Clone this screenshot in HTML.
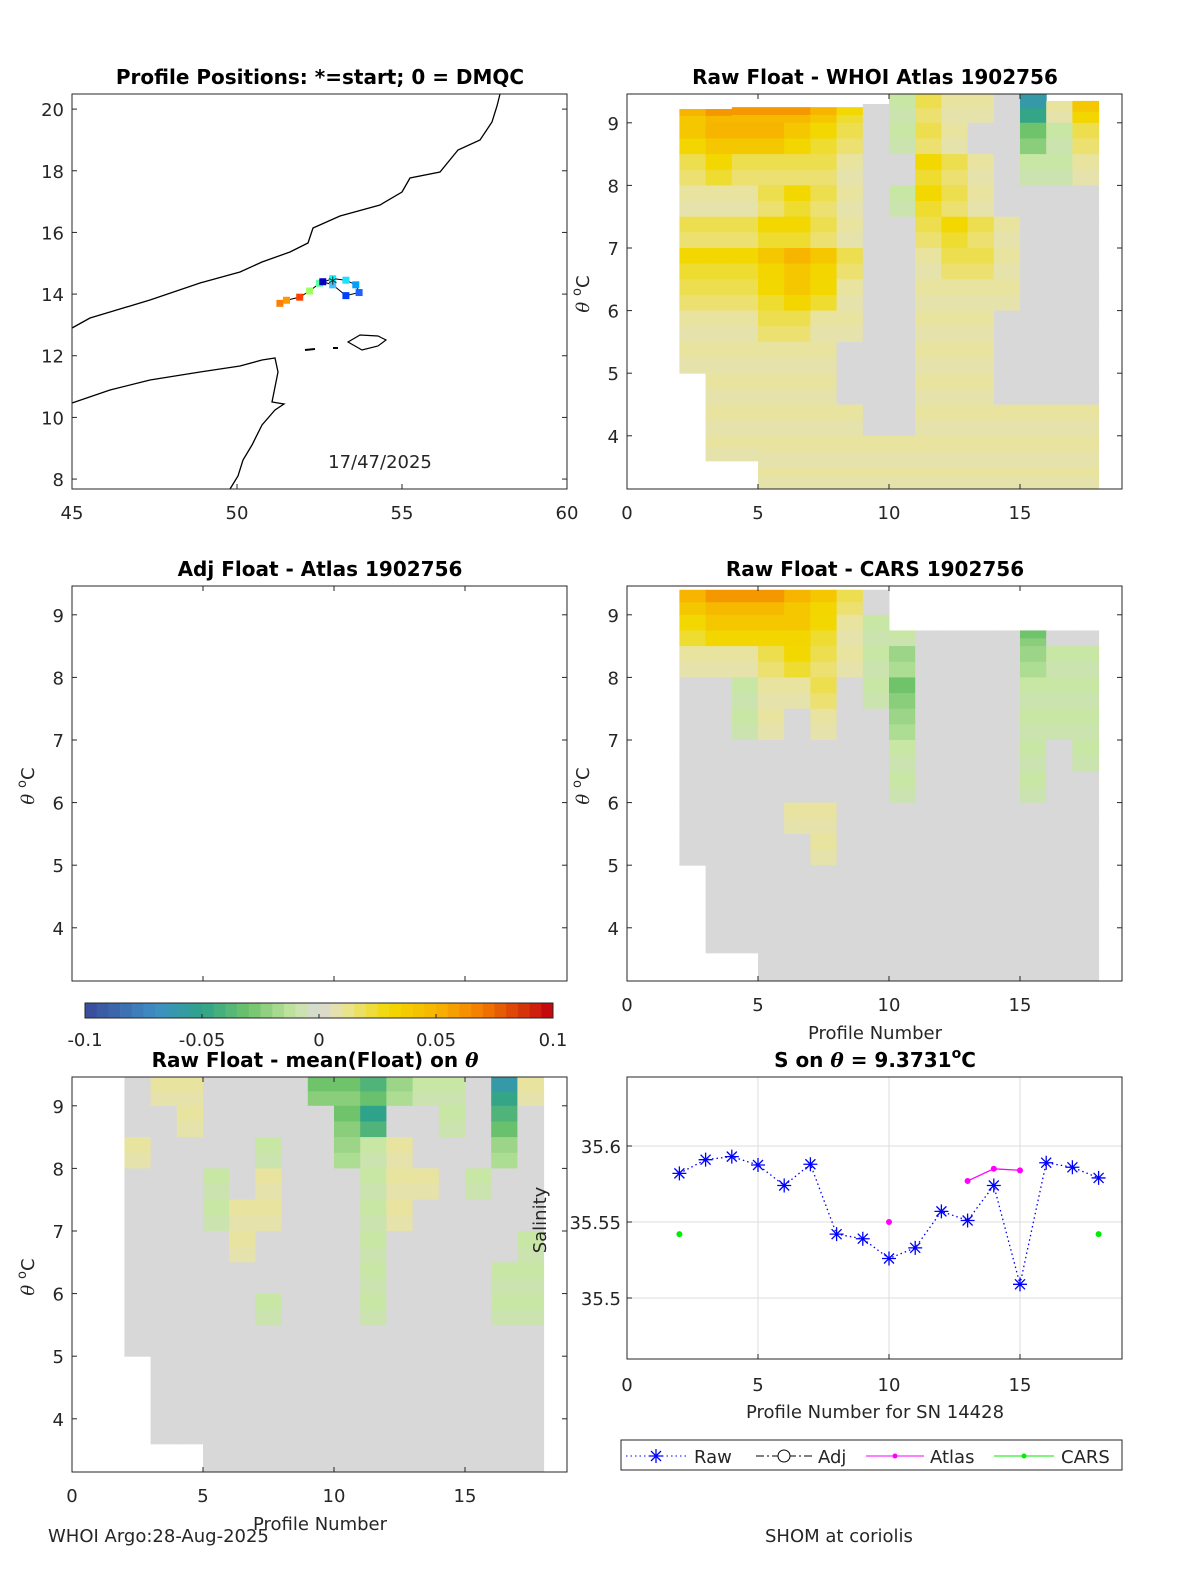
<!DOCTYPE html>
<html><head><meta charset="utf-8"><style>
body{margin:0;background:#fff;}
svg{display:block;font-family:"DejaVu Sans","Liberation Sans",sans-serif;}
.t{font-size:18px;fill:#262626;}
.ti{font-size:20px;font-weight:bold;fill:#000;}
</style></head><body>
<svg id="fig" width="1200" height="1575" viewBox="0 0 1200 1575">
<rect width="1200" height="1575" fill="#fff"/>
<g id="g"></g>
</svg>
<script>
// ---- data ----
const levels=[9.25,8.75,8.25,7.75,7.25,6.75,6.25,5.75,5.25,4.75,4.25,3.75,3.25];
const profiles=[2,3,4,5,6,7,8,9,10,11,12,13,14,15,16,17];
const colBottom=[5.0,3.6,3.6,3.15,3.15,3.15,3.15,3.15,3.15,3.15,3.15,3.15,3.15,3.15,3.15,3.15];
const atlasTop=[9.22,9.22,9.25,9.25,9.25,9.25,9.25,9.3,9.46,9.46,9.46,9.46,9.46,9.46,9.35,9.35];
const atlasAnom=[
[5,6,6,6,6,5,3,0,-1,2,1,1,0,-6,1,4],
[4,5,5,5,4,3,2,0,-1,2,1,0,0,-3,-1,2],
[2,3,2,2,2,2,1,0,0,3,2,1,0,-1,-1,1],
[1,1,1,2,3,2,1,0,-1,3,2,1,0,0,0,0],
[2,2,2,3,3,2,1,0,0,2,3,2,1,0,0,0],
[3,3,3,4,5,4,2,0,0,1,2,2,1,0,0,0],
[2,2,2,3,4,3,1,0,0,1,1,1,1,0,0,0],
[1,1,1,2,2,1,1,0,0,1,1,1,0,0,0,0],
[1,1,1,1,1,1,0,0,0,1,1,1,0,0,0,0],
[0,1,1,1,1,1,0,0,0,1,1,1,0,0,0,0],
[0,1,1,1,1,1,1,0,0,1,1,1,1,1,1,1],
[0,1,1,1,1,1,1,1,1,1,1,1,1,1,1,1],
[0,1,1,1,1,1,1,1,1,1,1,1,1,1,1,1]];
const carsTop=[9.4,9.4,9.4,9.4,9.4,9.4,9.4,9.4,8.75,8.75,8.75,8.75,8.75,8.75,8.75,8.75];
const carsAnom=[
[5,6,6,6,5,4,2,0,0,0,0,0,0,0,0,0],
[3,4,4,4,4,3,1,-1,-1,0,0,0,0,-3,0,0],
[1,1,1,2,3,2,1,-1,-2,0,0,0,0,-2,-1,-1],
[0,0,-1,1,1,2,0,-1,-3,0,0,0,0,-1,-1,-1],
[0,0,-1,1,0,1,0,0,-2,0,0,0,0,-1,-1,-1],
[0,0,0,0,0,0,0,0,-1,0,0,0,0,-1,0,-1],
[0,0,0,0,0,0,0,0,-1,0,0,0,0,-1,0,0],
[0,0,0,0,1,1,0,0,0,0,0,0,0,0,0,0],
[0,0,0,0,0,1,0,0,0,0,0,0,0,0,0,0],
[0,0,0,0,0,0,0,0,0,0,0,0,0,0,0,0],
[0,0,0,0,0,0,0,0,0,0,0,0,0,0,0,0],
[0,0,0,0,0,0,0,0,0,0,0,0,0,0,0,0],
[0,0,0,0,0,0,0,0,0,0,0,0,0,0,0,0]];
const meanTop=[9.46,9.46,9.46,9.46,9.46,9.46,9.46,9.46,9.46,9.46,9.46,9.46,9.46,9.46,9.46,9.46];
const meanAnom=[
[0,1,1,0,0,0,0,-3,-3,-4,-2,-1,-1,0,-6,1],
[0,0,1,0,0,0,0,0,-3,-5,0,0,-1,0,-4,0],
[1,0,0,0,0,-1,0,0,-2,-1,1,0,0,0,-2,0],
[0,0,0,-1,0,1,0,0,0,-1,1,1,0,-1,0,0],
[0,0,0,-1,1,1,0,0,0,-1,1,0,0,0,0,0],
[0,0,0,0,1,0,0,0,0,-1,0,0,0,0,0,-1],
[0,0,0,0,0,0,0,0,0,-1,0,0,0,0,-1,-1],
[0,0,0,0,0,-1,0,0,0,-1,0,0,0,0,-1,-1],
[0,0,0,0,0,0,0,0,0,0,0,0,0,0,0,0],
[0,0,0,0,0,0,0,0,0,0,0,0,0,0,0,0],
[0,0,0,0,0,0,0,0,0,0,0,0,0,0,0,0],
[0,0,0,0,0,0,0,0,0,0,0,0,0,0,0,0],
[0,0,0,0,0,0,0,0,0,0,0,0,0,0,0,0]];
// salinity chart
const sProf=[2,3,4,5,6,7,8,9,10,11,12,13,14,15,16,17,18];
const sRaw=[35.582,35.591,35.593,35.5875,35.574,35.588,35.542,35.539,35.526,35.533,35.557,35.551,35.574,35.509,35.589,35.586,35.579];
const atlasProf=[10,13,14,15];
const atlasS=[35.55,35.577,35.585,35.584];
const carsProf=[2,18];
const carsS=[35.542,35.542];
// track
const trackLon=[51.3,51.5,51.9,52.2,52.5,52.9,53.3,53.6,53.7,53.3,52.9,52.6];
const trackLat=[13.7,13.8,13.9,14.1,14.35,14.5,14.45,14.3,14.05,13.95,14.3,14.4];

// ---- helpers ----
const NS="http://www.w3.org/2000/svg";
const G=document.getElementById('g');
function el(t,a,p){const e=document.createElementNS(NS,t);for(const k in a)e.setAttribute(k,a[k]);(p||G).appendChild(e);return e;}
const cstops=[[-10,[58,74,154]],[-7,[62,142,196]],[-5,[46,163,138]],[-3,[111,195,106]],[-1,[200,230,164]],[0,[216,216,216]],[1,[232,228,160]],[3,[242,216,0]],[5,[247,181,0]],[7,[243,122,0]],[10,[192,0,16]]];
function cmap(v){v=Math.max(-10,Math.min(10,v));for(let i=0;i<cstops.length-1;i++){const[a,ca]=cstops[i],[b,cb]=cstops[i+1];if(v<=b){const f=(v-a)/(b-a);return`rgb(${ca.map((c,j)=>Math.round(c+(cb[j]-c)*f)).join(',')})`;}}return'rgb(192,0,16)';}

function axesBox(x0,y0,w,h,name){el('rect',{x:x0,y:y0,width:w,height:h,fill:'none',stroke:'#262626','stroke-width':1,});}
function text(x,y,s,cls,anchor,name,extra){const t=el('text',Object.assign({x:x,y:y,class:cls,'text-anchor':anchor||'middle',},extra||{}));t.textContent=s;return t;}

function heatPanel(px,py,top,anom,name){
  const X=p=>px+(p)*26.2, Y=t=>py+(9.46-t)*62.6;
  const g=el('g',{});
  profiles.forEach((p,ci)=>{
    levels.forEach((lv,ri)=>{
      const hi=Math.min(lv+0.25,top[ci]), lo=Math.max(lv-0.25,colBottom[ci]);
      if(hi<=lo)return;
      const v=anom[ri][ci];
      const mid=(hi+lo)/2;
      [[hi,mid,v],[mid,lo,v*0.8]].forEach(([a,b,vv])=>{
        const r=el('rect',{x:X(p),y:Y(a),width:X(p+1)-X(p)+0.5,height:Y(b)-Y(a)+0.5,fill:cmap(vv)},g);
        
        
      });
    });
  });
  axesBox(px,py,495,395,name+'-axes');
  for(let t=4;t<=9;t++){const y=Y(t);el('line',{x1:px,x2:px+5,y1:y,y2:y,stroke:'#262626'});el('line',{x1:px+495,x2:px+490,y1:y,y2:y,stroke:'#262626'});text(px-8,y+7,String(t),'t','end','y-tick-label');}
  for(let t=0;t<=15;t+=5){const x=X(t);el('line',{x1:x,x2:x,y1:py+395,y2:py+390,stroke:'#262626'});el('line',{x1:x,x2:x,y1:py,y2:py+5,stroke:'#262626'});text(x,py+425,String(t),'t','middle','x-tick-label');}
  const yl=text(px-38,py+200,'','t','middle','y-axis-title',{transform:`rotate(-90 ${px-38} ${py+200})`});
  yl.innerHTML='<tspan font-style="italic" font-family="DejaVu Serif">θ</tspan> <tspan font-size="13" dy="-8">o</tspan><tspan dy="8">C</tspan>';
}

// ---- map ----
(function(){
  const px=72,py=94;
  const X=l=>px+(l-45)*33, Y=l=>py+(20.49-l)*30.83;
  text(320,84,'Profile Positions: *=start; 0 = DMQC','ti','middle','map-title');
  el('polyline',{points:'72,328 90,318 110,312 150,300 200,283 240,272 262,262 290,252 308,243 313,228 340,216 380,205 402,192 410,178 440,172 458,150 480,140 492,122 497,106 500,94',fill:'none',stroke:'#000','stroke-width':1.3,});
  el('polyline',{points:'72,403 110,390 150,380 200,372 240,366 262,360 275,358 278,372 274,392 272,402 284,404 275,410 262,425 252,445 243,460 238,476 230,489',fill:'none',stroke:'#000','stroke-width':1.3,});
  el('path',{d:'M348,342 L360,335 L378,336 L386,340 L378,346 L362,350 Z',fill:'none',stroke:'#000','stroke-width':1.2,});
  el('path',{d:'M305,350 L315,349 M333,348 L338,348',stroke:'#000','stroke-width':2,});
  const pts=trackLon.map((l,i)=>[X(l),Y(trackLat[i])]);
  el('polyline',{points:pts.map(p=>p.join(',')).join(' '),fill:'none',stroke:'#000','stroke-width':1,});
  const cols=['#ff8000','#ff9900','#ff4000','#a0ff60','#60ffa0','#00ffff','#20e0ff','#00a0ff','#2060ff','#0040ff','#40c0ff','#0000c0'];
  pts.forEach((p,i)=>{const r=el('rect',{x:p[0]-3.5,y:p[1]-3.5,width:7,height:7,fill:cols[i]});});
  text(X(52.9),Y(14.35)+6,'*','t','middle','start-marker',{fill:'#e00','font-size':'20'});
  axesBox(px,py,495,395,'map-axes');
  [8,10,12,14,16,18,20].forEach(t=>{const y=Y(t);el('line',{x1:px,x2:px+5,y1:y,y2:y,stroke:'#262626'});el('line',{x1:px+495,x2:px+490,y1:y,y2:y,stroke:'#262626'});text(px-8,y+7,String(t),'t','end','map-lat-tick');});
  [45,50,55,60].forEach(t=>{const x=X(t);el('line',{x1:x,x2:x,y1:py+395,y2:py+390,stroke:'#262626'});text(x,py+425,String(t),'t','middle','map-lon-tick');});
  text(380,468,'17/47/2025','t','middle','map-date');
})();

// ---- heat panels ----
text(875,84,'Raw Float - WHOI Atlas  1902756','ti','middle','atlas-title');
heatPanel(627,94,atlasTop,atlasAnom,'atlas-heatmap');
text(875,576,'Raw Float - CARS  1902756','ti','middle','cars-title');
heatPanel(627,586,carsTop,carsAnom,'cars-heatmap');
text(875,1039,'Profile Number','t','middle','cars-x-title',{'font-size':'20'});
(function(){const px=72,py=586,Y=t=>py+(9.46-t)*62.6;
 text(320,576,'Adj Float - Atlas  1902756','ti','middle','adj-title');
 axesBox(px,py,495,395,'adj-axes');
 for(let t=4;t<=9;t++){const y=Y(t);el('line',{x1:px,x2:px+5,y1:y,y2:y,stroke:'#262626'});el('line',{x1:px+495,x2:px+490,y1:y,y2:y,stroke:'#262626'});text(px-8,y+7,String(t),'t','end','y-tick-label');}
 for(let t=0;t<=15;t+=5){const x=px+t*26.2;el('line',{x1:x,x2:x,y1:py+395,y2:py+390,stroke:'#262626'});el('line',{x1:x,x2:x,y1:py,y2:py+5,stroke:'#262626'});}
 const yl=text(px-38,py+200,'','t','middle','y-axis-title',{transform:`rotate(-90 ${px-38} ${py+200})`});
 yl.innerHTML='<tspan font-style="italic" font-family="DejaVu Serif">θ</tspan> <tspan font-size="13" dy="-8">o</tspan><tspan dy="8">C</tspan>';
})();
// colorbar
(function(){const g=el('g',{});
 for(let i=0;i<40;i++){const v=-10+i*0.5+0.25;const r=el('rect',{x:85+i*11.7,y:1003,width:12,height:15,fill:cmap(v)},g);}
 el('rect',{x:85,y:1003,width:468,height:15,fill:'none',stroke:'#262626'},g);
 [['-0.1',85],['-0.05',202],['0',319],['0.05',436],['0.1',553]].forEach(([s,x])=>{el('line',{x1:x,x2:x,y1:1018,y2:1014,stroke:'#262626'});text(x,1046,s,'t','middle','colorbar-tick');});
})();
// bottom-left mean
text(315,1067,'','ti','middle','mean-title').innerHTML='Raw Float - mean(Float) on <tspan font-style="italic" font-family="DejaVu Serif">θ</tspan>';
heatPanel(72,1077,meanTop,meanAnom,'mean-heatmap');
text(320,1530,'Profile Number','t','middle','mean-x-title',{'font-size':'20'});

// ---- salinity chart ----
(function(){
 const px=627,py=1077,w=495,h=282;
 const X=p=>px+p*26.2, Y=s=>1146+(35.6-s)*1520;
 text(875,1067,'','ti','middle','salinity-title').innerHTML='S on <tspan font-style="italic" font-family="DejaVu Serif">θ</tspan> = 9.3731<tspan font-size="14" dy="-9">o</tspan><tspan dy="9">C</tspan>';
 [5,10,15].forEach(t=>el('line',{x1:X(t),x2:X(t),y1:py,y2:py+h,stroke:'#dcdcdc',}));
 [35.5,35.55,35.6].forEach(s=>el('line',{x1:px,x2:px+w,y1:Y(s),y2:Y(s),stroke:'#dcdcdc',}));
 axesBox(px,py,w,h,'salinity-axes');
 [35.5,35.55,35.6].forEach(s=>{el('line',{x1:px,x2:px+5,y1:Y(s),y2:Y(s),stroke:'#262626'});text(px-6,Y(s)+7,String(s),'t','end','salinity-tick');});
 [0,5,10,15].forEach(t=>{el('line',{x1:X(t),x2:X(t),y1:py+h,y2:py+h-5,stroke:'#262626'});text(X(t),py+h+32,String(t),'t','middle','profile-tick');});
 text(546,1220,'Salinity','t','middle','salinity-y-title',{transform:'rotate(-90 546 1220)','font-size':'20'});
 text(875,1418,'Profile Number for SN 14428','t','middle','salinity-x-title',{'font-size':'20'});
 el('polyline',{points:sProf.map((p,i)=>X(p)+','+Y(sRaw[i])).join(' '),fill:'none',stroke:'#0000ff','stroke-width':1.3,'stroke-dasharray':'1.5,3',});
 sProf.forEach((p,i)=>{const x=X(p),y=Y(sRaw[i]);const s=el('path',{d:`M${x-7},${y}H${x+7}M${x},${y-7}V${y+7}M${x-5},${y-5}L${x+5},${y+5}M${x-5},${y+5}L${x+5},${y-5}`,stroke:'#0000ff','stroke-width':1.3});});
 el('polyline',{points:atlasProf.slice(1).map((p,i)=>X(p)+','+Y(atlasS[i+1])).join(' '),fill:'none',stroke:'#ff00ff','stroke-width':1.3,});
 atlasProf.forEach((p,i)=>{const c=el('circle',{cx:X(p),cy:Y(atlasS[i]),r:3,fill:'#ff00ff'});});
 carsProf.forEach((p,i)=>{const c=el('circle',{cx:X(p),cy:Y(carsS[i]),r:3,fill:'#00ee00'});});
 const lg=el('g',{});
 el('rect',{x:621,y:1440,width:501,height:30,fill:'#fff',stroke:'#262626'},lg);
 el('line',{x1:626,x2:686,y1:1456,y2:1456,stroke:'#00f','stroke-dasharray':'1.5,3'},lg);
 el('path',{d:'M649,1456H663M656,1449V1463M651,1451L661,1461M651,1461L661,1451',stroke:'#00f','stroke-width':1.3},lg);
 text(694,1463,'Raw','t','start','legend-raw');
 el('line',{x1:756,x2:812,y1:1456,y2:1456,stroke:'#000','stroke-dasharray':'8,3,2,3'},lg);
 el('circle',{cx:784,cy:1456,r:6,fill:'#fff',stroke:'#000'},lg);
 text(818,1463,'Adj','t','start','legend-adj');
 el('line',{x1:866,x2:924,y1:1456,y2:1456,stroke:'#f0f'},lg);
 el('circle',{cx:895,cy:1456,r:2.5,fill:'#f0f'},lg);
 text(930,1463,'Atlas','t','start','legend-atlas');
 el('line',{x1:994,x2:1054,y1:1456,y2:1456,stroke:'#0e0'},lg);
 el('circle',{cx:1024,cy:1456,r:2.5,fill:'#0e0'},lg);
 text(1061,1463,'CARS','t','start','legend-cars');
})();
text(48,1542,'WHOI Argo:28-Aug-2025','t','start','footer-left',{'font-size':'15'});
text(765,1542,'SHOM at coriolis','t','start','footer-right',{'font-size':'15'});
</script>
</body></html>
